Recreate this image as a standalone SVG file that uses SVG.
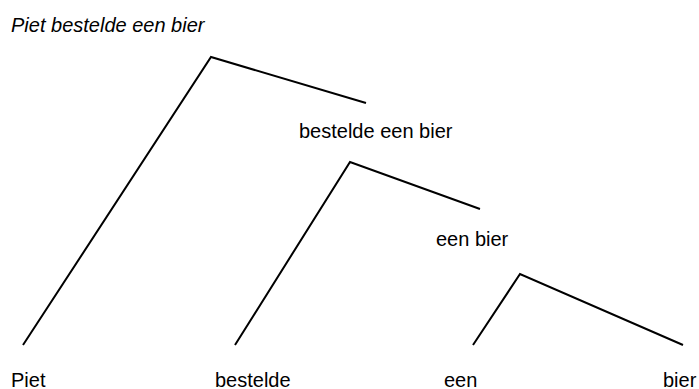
<svg xmlns="http://www.w3.org/2000/svg" width="699" height="389" viewBox="0 0 699 389">
<style>
text { font-family: "Liberation Sans", Arial, sans-serif; font-size: 20px; fill: #000; }
.title { font-style: italic; }
.edge { stroke: #000; stroke-width: 2; fill: none; stroke-linejoin: miter; }
</style>
<rect width="699" height="389" fill="#fff"/>
<text class="title" x="11" y="32">Piet bestelde een bier</text>
<g id="connectors">
<polyline class="edge" points="23,345 211,57 366,103"/>
<polyline class="edge" points="235,345 350,162 480,209"/>
<polyline class="edge" points="473,345 520,274 683,345"/>
</g>
<g id="node-s"><text x="299" y="138">bestelde een bier</text></g>
<g id="node-vp"><text x="436" y="246">een bier</text></g>
<g id="node-piet"><text x="11" y="387">Piet</text></g>
<g id="node-bestelde"><text x="215" y="387">bestelde</text></g>
<g id="node-een"><text x="444" y="387">een</text></g>
<g id="node-bier"><text x="663" y="387">bier</text></g>
</svg>
